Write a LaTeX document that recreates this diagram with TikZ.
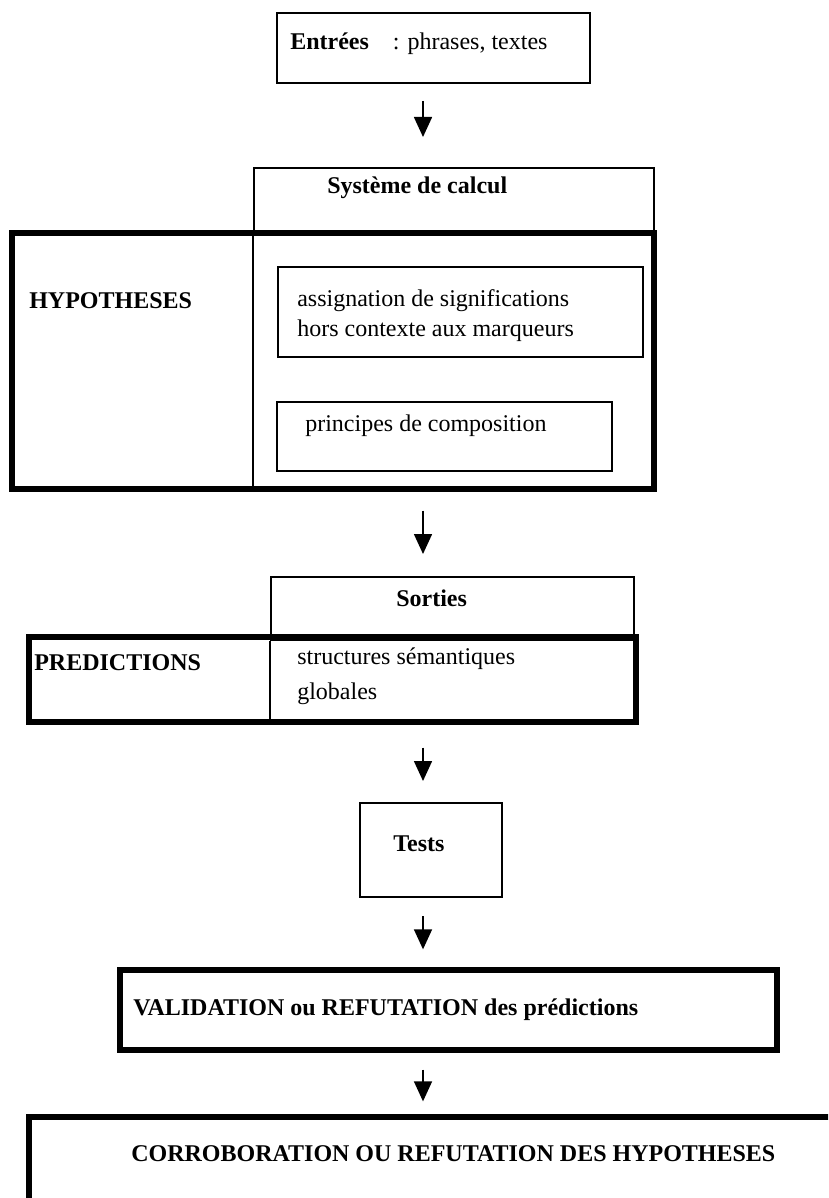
\documentclass[tikz,border=0pt]{standalone}
\usepackage{fontspec}
\setmainfont{Liberation Serif}
\usetikzlibrary{arrows.meta,fit}
\begin{document}
\begin{tikzpicture}[x=0.75pt,y=-0.75pt,
  thinbox/.style={draw,line width=1.5pt,inner sep=0pt},
  thickbox/.style={draw,line width=4pt,inner sep=0pt},
  txt/.style={anchor=base west,inner sep=0pt,font=\fontsize{18pt}{22pt}\selectfont},
  btxt/.style={anchor=base west,inner sep=0pt,font=\fontsize{18pt}{22pt}\selectfont\bfseries},
  divider/.style={line width=1.5pt},
  arr/.style={line width=1.2pt,-{Triangle[width=13.5pt,length=15pt]}}]
\clip (0,0) rectangle (828,1198);
\coordinate (ax) at (423,0);
% Entrees
\node[thinbox,fit={(277,13)(590,83)}] (entrees) {};
\node[btxt] (entreesT) at (290,50) {Entrées\hspace{18pt}\mdseries: phrases, textes};
% Systeme de calcul / hypotheses
\node[thinbox,fit={(254,168)(654,233)}] (sys) {};
\node[btxt] (sysT) at (327,194) {Système de calcul};
\node[thickbox,fit={(12,233)(654,489)}] (hyp) {};
\draw[divider] (sys.south west) -- (sys.south west |- hyp.south);
\node[btxt] (hypT) at (29,308) {HYPOTHESES};
\node[thinbox,line width=2pt,fit={(278,267)(643,357)}] (assign) {};
\node[txt] (assignT1) at (297,306) {assignation de significations};
\node[txt] (assignT2) at (297,336) {hors contexte aux marqueurs};
\node[thinbox,fit={(277,402)(612,471)}] (princ) {};
\node[txt] (princT) at (305,431) {principes de composition};
% Sorties / predictions
\node[thinbox,fit={(271,577)(634,640)}] (sorties) {};
\node[btxt] (sortiesT) at (396,606) {Sorties};
\node[thickbox,fit={(29,637)(636,722)}] (pred) {};
\draw[divider] (sorties.south west) -- (sorties.south west |- pred.south);
\node[btxt] (predT) at (34,670) {PREDICTIONS};
\node[txt] (structT1) at (297,664) {structures sémantiques};
\node[txt] (structT2) at (297,699) {globales};
% Tests
\node[thinbox,fit={(360,803)(502,897)}] (tests) {};
\node[btxt] (testsT) at (393,851) {Tests};
% Validation
\node[thickbox,fit={(120,970)(777,1050)}] (valid) {};
\node[btxt] (validT) at (133,1015) {VALIDATION ou REFUTATION des prédictions};
% Corroboration
\node[thickbox,fit={(29,1117)(860,1260)}] (corr) {};
\node[btxt] (corrT) at (131,1161) {CORROBORATION OU REFUTATION DES HYPOTHESES};
% arrows
\draw[arr,shorten <=12.75pt,shorten >=22.5pt] (ax |- entrees.south) -- (ax |- sys.north);
\draw[arr,shorten <=14.25pt,shorten >=16.5pt] (ax |- hyp.south) -- (ax |- sorties.north);
\draw[arr,shorten <=17.25pt,shorten >=15.75pt] (ax |- pred.south) -- (ax |- tests.north);
\draw[arr,shorten <=13.5pt,shorten >=13.5pt] (ax |- tests.south) -- (ax |- valid.north);
\draw[arr,shorten <=12.75pt,shorten >=9.75pt] (ax |- valid.south) -- (ax |- corr.north);
\end{tikzpicture}
\end{document}
